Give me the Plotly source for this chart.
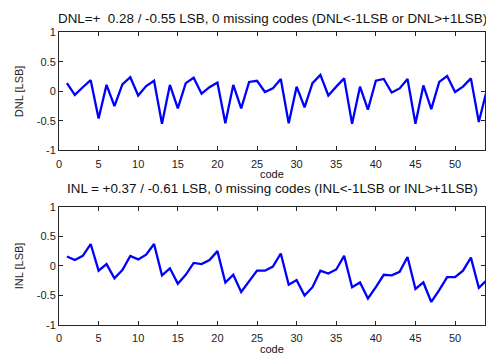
import plotly.graph_objects as go

# ADC transfer characteristic: differential and integral non-linearity per code
codes = list(range(1, 55))

dnl = [0.14, -0.06, 0.07, 0.19, -0.46, 0.11, -0.25, 0.12, 0.24, -0.07,
       0.09, 0.18, -0.55, 0.11, -0.29, 0.14, 0.23, -0.04, 0.07, 0.15,
       -0.54, 0.11, -0.29, 0.16, 0.18, -0.01, 0.05, 0.21, -0.54, 0.08,
       -0.27, 0.14, 0.28, -0.07, 0.08, 0.22, -0.55, 0.08, -0.31, 0.18,
       0.21, -0.02, 0.05, 0.21, -0.55, 0.10, -0.30, 0.16, 0.26, -0.01,
       0.08, 0.22, -0.52, 0.02]

inl = [0.16, 0.10, 0.17, 0.37, -0.08, 0.03, -0.21, -0.07, 0.17, 0.11,
       0.19, 0.37, -0.16, -0.04, -0.30, -0.15, 0.05, 0.03, 0.10, 0.25,
       -0.28, -0.15, -0.44, -0.27, -0.08, -0.08, -0.01, 0.21, -0.32, -0.24,
       -0.50, -0.36, -0.08, -0.13, -0.06, 0.17, -0.36, -0.28, -0.55, -0.36,
       -0.15, -0.16, -0.10, 0.15, -0.39, -0.28, -0.61, -0.41, -0.19, -0.19,
       -0.08, 0.14, -0.37, -0.24]

dnl_title = "DNL=+  0.28 / -0.55 LSB, 0 missing codes (DNL<-1LSB or DNL>+1LSB)"
inl_title = "INL = +0.37 / -0.61 LSB, 0 missing codes (INL<-1LSB or INL>+1LSB)"
x_label = "code"

x_ticks = list(range(0, 55, 5))
y_ticks = [-1, -0.5, 0, 0.5, 1]
y_ticktext = ["-1", "-0.5", "0", "0.5", "1"]

W, H = 486, 361
FONT = "Liberation Sans, Arial, sans-serif"
AXIS_COLOR = "#262626"
TEXT_COLOR = "#222"
LINE_BLUE = "#0000ff"

fig = go.Figure()
fig.add_trace(go.Scatter(x=codes, y=dnl, mode="lines",
                         line=dict(color=LINE_BLUE, width=2.3),
                         xaxis="x", yaxis="y", showlegend=False))
fig.add_trace(go.Scatter(x=codes, y=inl, mode="lines",
                         line=dict(color=LINE_BLUE, width=2.3),
                         xaxis="x2", yaxis="y2", showlegend=False))

def px_to_paper(py):
    return 1 - py / H

top_dom = [px_to_paper(149.3), px_to_paper(27.3)]
bot_dom = [px_to_paper(330.0), px_to_paper(207.7)]

common_x = dict(range=[0, 53.78], tickvals=x_ticks, ticks="inside", ticklen=4,
                tickcolor=AXIS_COLOR, showline=True, linecolor=AXIS_COLOR,
                linewidth=1, mirror="ticks", showgrid=False, zeroline=False,
                ticklabelstandoff=3,
                tickfont=dict(family=FONT, size=11, color=TEXT_COLOR))
common_y = dict(range=[-1, 1], tickvals=y_ticks, ticktext=y_ticktext,
                ticks="inside", ticklen=4, tickcolor=AXIS_COLOR, showline=True,
                linecolor=AXIS_COLOR, linewidth=1, mirror="ticks",
                showgrid=False, zeroline=False,
                tickfont=dict(family=FONT, size=11, color=TEXT_COLOR))

def label(text, y_px, size):
    return dict(text=text, x=0.5, y=px_to_paper(y_px), xref="paper", yref="paper",
                xanchor="center", yanchor="middle", showarrow=False,
                font=dict(family=FONT, size=size, color="#111"))

fig.update_layout(
    width=W, height=H,
    margin=dict(l=59, r=0, t=0, b=0),
    paper_bgcolor="white", plot_bgcolor="white",
    xaxis=dict(domain=[0, 1], anchor="y", **common_x),
    yaxis=dict(domain=top_dom, anchor="x",
               title=dict(text="DNL [LSB]", font=dict(family=FONT, size=11, color=TEXT_COLOR),
                          standoff=10),
               **common_y),
    xaxis2=dict(domain=[0, 1], anchor="y2", **common_x),
    yaxis2=dict(domain=bot_dom, anchor="x2",
                title=dict(text="INL [LSB]", font=dict(family=FONT, size=11, color=TEXT_COLOR),
                           standoff=10),
                **common_y),
    annotations=[
        label(dnl_title, 13, 13.4),
        label(x_label, 174, 11),
        label(inl_title, 189, 13.4),
        label(x_label, 355, 11),
    ],
)

fig.write_html("out.html")
